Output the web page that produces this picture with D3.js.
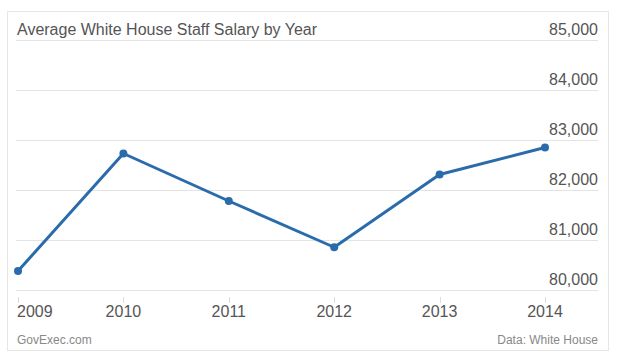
<!DOCTYPE html>
<html><head><meta charset="utf-8">
<script src="https://cdn.jsdelivr.net/npm/d3@7"></script>
<style>
html,body{margin:0;padding:0;background:#fff;}
svg{display:block;font-family:"Liberation Sans",Arial,Helvetica,sans-serif;}
</style></head>
<body>
<svg id="chart" width="617" height="358"></svg>
<script>
const title = "Average White House Staff Salary by Year";
const years = [2009, 2010, 2011, 2012, 2013, 2014];
const salaries = [80380, 82730, 81780, 80855, 82310, 82850];
const yTicks = [80000, 81000, 82000, 83000, 84000, 85000];
const sourceLeft = "GovExec.com";
const sourceRight = "Data: White House";

const svg = d3.select("#chart");
// card
svg.append("rect").attr("x", 7.5).attr("y", 11.5).attr("width", 601).attr("height", 339)
  .attr("fill", "#fff").attr("stroke", "#e6e6e6");

const x = d3.scaleLinear().domain([2009, 2014]).range([18, 545]);
const y = d3.scaleLinear().domain([80000, 85000]).range([290, 40]);

// gridlines
const grid = svg.append("g");
grid.selectAll("line").data(yTicks).join("line")
  .attr("x1", 16).attr("x2", 598)
  .attr("y1", d => Math.round(y(d)) + 0.5).attr("y2", d => Math.round(y(d)) + 0.5)
  .attr("stroke", "#e3e3e3").attr("stroke-width", 1);

// y labels
const fmt = d3.format(",");
svg.append("g").selectAll("text").data(yTicks).join("text")
  .attr("x", 598).attr("y", d => y(d) - 5)
  .attr("text-anchor", "end").attr("font-size", 16).attr("fill", "#555")
  .text(d => fmt(d));

// title
svg.append("text").attr("x", 17).attr("y", 35).attr("font-size", 16).attr("fill", "#555").text(title);

// x axis ticks
const xAxis = svg.append("g");
xAxis.selectAll("line").data(years).join("line")
  .attr("x1", d => Math.round(x(d)) + 0.5).attr("x2", d => Math.round(x(d)) + 0.5)
  .attr("y1", 297).attr("y2", 303).attr("stroke", "#ddd");
xAxis.selectAll("text").data(years).join("text")
  .attr("x", (d, i) => i === 0 ? 17 : x(d))
  .attr("y", 317)
  .attr("text-anchor", (d, i) => i === 0 ? "start" : "middle")
  .attr("font-size", 16).attr("fill", "#555")
  .text(d => d);

// line
const line = d3.line().x((d, i) => x(years[i])).y(d => y(d));
svg.append("path").datum(salaries).attr("d", line)
  .attr("fill", "none").attr("stroke", "#2a6cab").attr("stroke-width", 3)
  .attr("stroke-linejoin", "round");
svg.append("g").selectAll("circle").data(salaries).join("circle")
  .attr("cx", (d, i) => x(years[i])).attr("cy", d => y(d)).attr("r", 4)
  .attr("fill", "#2a6cab");

// footer
svg.append("text").attr("x", 17).attr("y", 344).attr("font-size", 12).attr("fill", "#888").text(sourceLeft);
svg.append("text").attr("x", 598).attr("y", 344).attr("text-anchor", "end").attr("font-size", 12).attr("fill", "#888").text(sourceRight);
</script>
</body></html>
